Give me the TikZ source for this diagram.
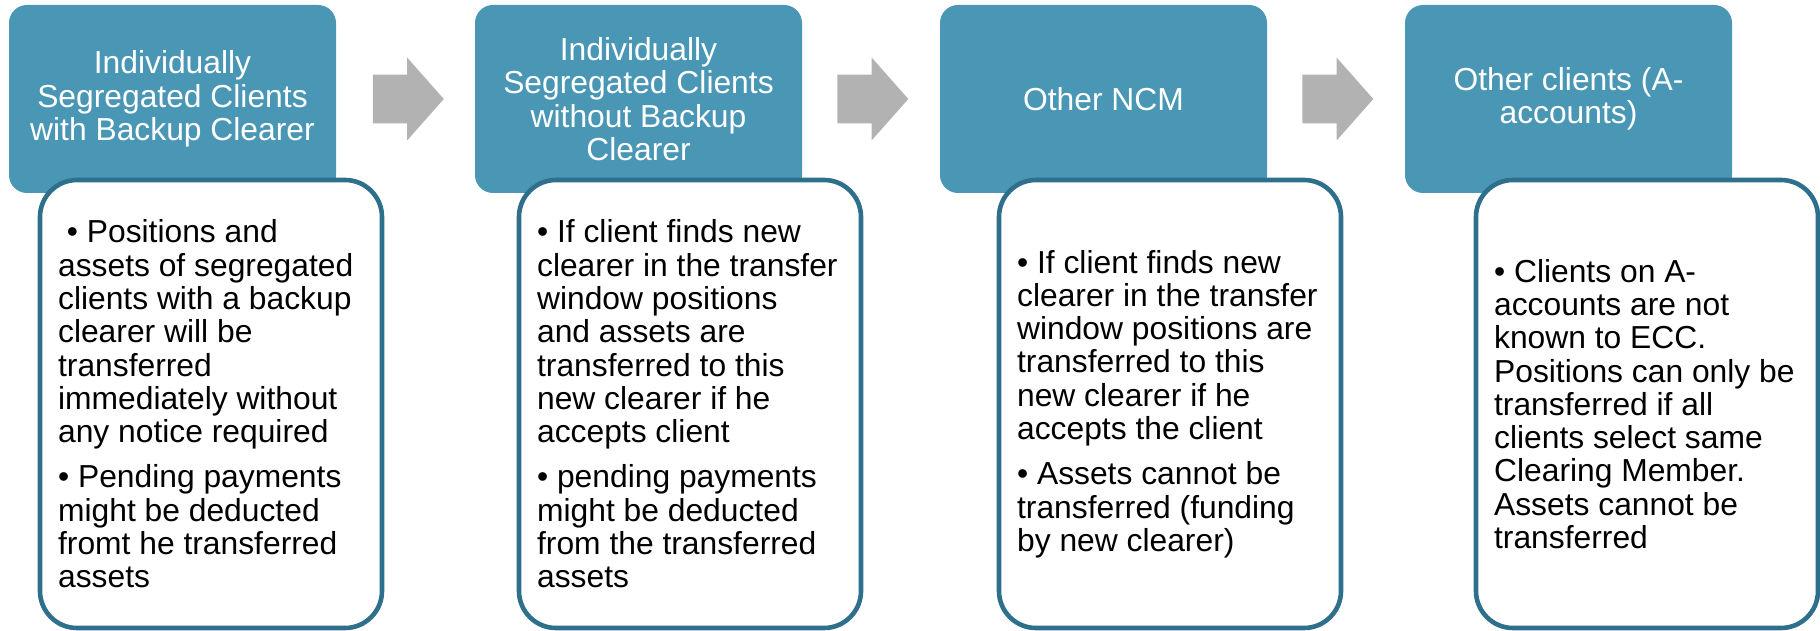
\documentclass[tikz,border=0pt]{standalone}
\usepackage{fontspec}
\setmainfont{Liberation Sans}
\usetikzlibrary{shapes,arrows}
\usetikzlibrary{positioning}
\definecolor{headblue}{RGB}{74,151,181}
\definecolor{bodyline}{RGB}{46,112,139}
\definecolor{arrowgray}{RGB}{178,178,178}

\begin{document}
\begin{tikzpicture}[x=1pt,y=1pt,
    every node/.style={font=\fontsize{15.9pt}{16.65pt}\selectfont},
    head/.style={fill=headblue, text=white, rounded corners=9pt,
        minimum width=163.5pt, minimum height=94pt, align=center, inner sep=0pt},
    bodybox/.style={draw=bodyline, line width=2.3pt, fill=white, rounded corners=18.5pt,
        minimum width=171pt, minimum height=224pt, inner sep=0pt},
    bodytext/.style={align=left, anchor=west, inner sep=0pt},
    blockarrow/.style={single arrow, fill=arrowgray, minimum height=35.5pt, minimum width=41pt,
        single arrow head extend=8.5pt, single arrow tip angle=97,
        inner xsep=0pt, inner ysep=12pt}]
    \useasboundingbox (0,0) rectangle (910,315.5);
    % headers
    \node[head] (h1) at (86.25,266) {Individually\\Segregated Clients\\with Backup Clearer};
    \node[head] (h2) at (319.25,266) {Individually\\Segregated Clients\\without Backup\\Clearer};
    \node[head] (h3) at (551.75,266) {Other NCM};
    \node[head] (h4) at (784.25,266) {Other clients (A-\\accounts)};
    % arrows between the headers
    \node[blockarrow] (a1) at (198.75,266) {};
    \node[blockarrow] (a2) at (431,266) {};
    \node[blockarrow] (a3) at (663.5,266) {};
    % bodies
    \node[bodybox] (b1) at (105.5,113.5) {};
    \node[bodybox] (b2) at (345,113.5) {};
    \node[bodybox] (b3) at (585,113.5) {};
    \node[bodybox] (b4) at (823.5,113.5) {};
    \node[bodytext] (t1) at ([xshift=10pt]b1.west) {\ • Positions and\\assets of segregated\\clients with a backup\\clearer will be\\transferred\\immediately without\\any notice required\\[6pt]• Pending payments\\might be deducted\\fromt he transferred\\assets};
    \node[bodytext] (t2) at ([xshift=10pt]b2.west) {• If client finds new\\clearer in the transfer\\window positions\\and assets are\\transferred to this\\new clearer if he\\accepts client\\[6pt]• pending payments\\might be deducted\\from the transferred\\assets};
    \node[bodytext] (t3) at ([xshift=10pt]b3.west) {• If client finds new\\clearer in the transfer\\window positions are\\transferred to this\\new clearer if he\\accepts the client\\[6pt]• Assets cannot be\\transferred (funding\\by new clearer)};
    \node[bodytext] (t4) at ([xshift=10pt]b4.west) {• Clients on A-\\accounts are not\\known to ECC.\\Positions can only be\\transferred if all\\clients select same\\Clearing Member.\\Assets cannot be\\transferred};
\end{tikzpicture}
\end{document}
